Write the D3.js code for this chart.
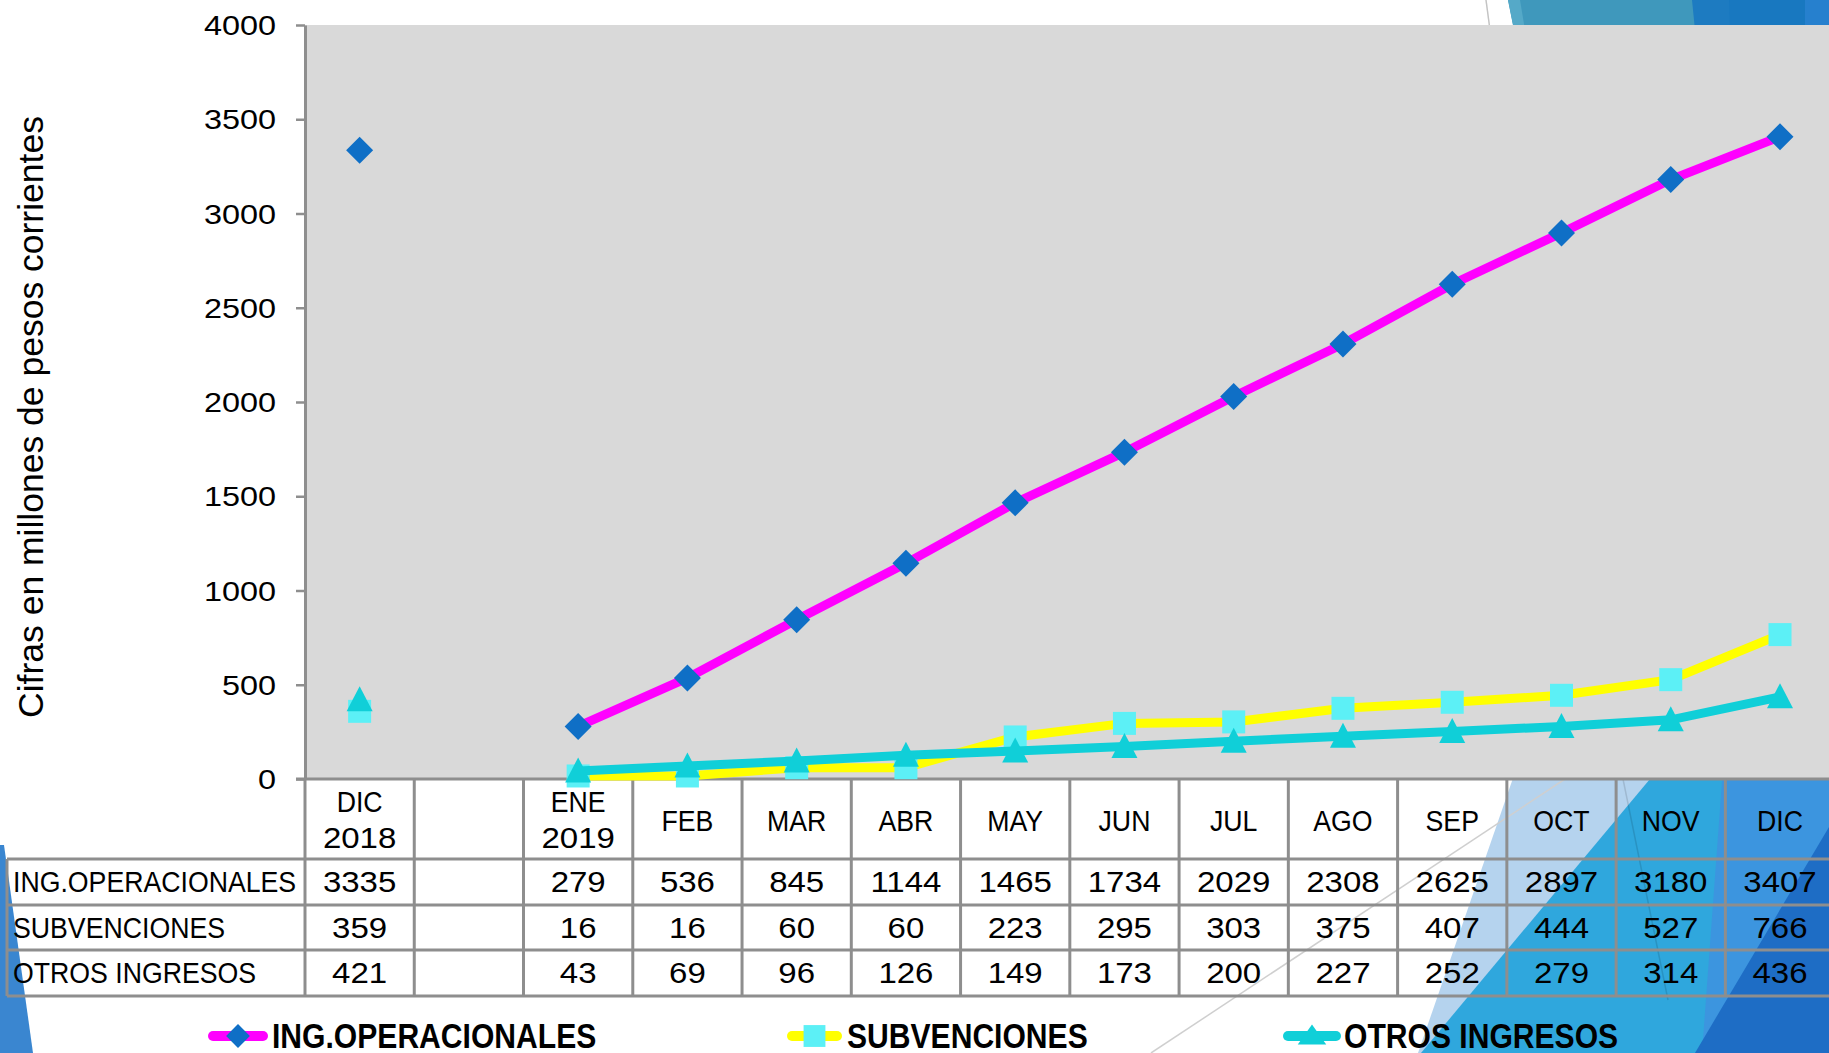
<!DOCTYPE html>
<html lang="es">
<head>
<meta charset="UTF-8">
<title>Ingresos 2019</title>
<script src="https://cdn.jsdelivr.net/npm/d3@7"></script>
<style>
  html, body { margin: 0; padding: 0; background: #fff; overflow: hidden; }
  svg { display: block; font-family: "Liberation Sans", Arial, sans-serif; }
</style>
</head>
<body>
<svg width="1829" height="1053"></svg>
<script>
// data
var months = ["DIC|2018", "", "ENE|2019", "FEB", "MAR", "ABR", "MAY", "JUN", "JUL", "AGO", "SEP", "OCT", "NOV", "DIC"]
var ingOperacionales = [3335, null, 279, 536, 845, 1144, 1465, 1734, 2029, 2308, 2625, 2897, 3180, 3407]
var subvenciones = [359, null, 16, 16, 60, 60, 223, 295, 303, 375, 407, 444, 527, 766]
var otrosIngresos = [421, null, 43, 69, 96, 126, 149, 173, 200, 227, 252, 279, 314, 436]
var yTicks = [0, 500, 1000, 1500, 2000, 2500, 3000, 3500, 4000]

var series = [
  { name: "ING.OPERACIONALES", values: ingOperacionales, line: "#ff00ff", mark: "#0f6fc6", shape: "diamond" },
  { name: "SUBVENCIONES", values: subvenciones, line: "#ffff00", mark: "#5cf0f6", shape: "square" },
  { name: "OTROS INGRESOS", values: otrosIngresos, line: "#10cfd8", mark: "#10cfd8", shape: "triangle" }
]

var plotLeft = 305, plotTop = 25, plotBottom = 779, colW = 109.26
var rowY = [859, 905, 950, 996]
var textY = [892, 938, 983]
var gridColor = "#8e8e8e"

var svg = d3.select("svg")

// background decoration of the slide
var deco = svg.append("g")
deco.append("path").attr("d", "M1508,0 L1829,0 L1829,30 L1514,30 Z").attr("fill", "#3f98bc")
deco.append("path").attr("d", "M1508,0 L1520,0 L1525,30 L1514,30 Z").attr("fill", "#55a9c8")
deco.append("path").attr("d", "M1692,0 L1829,0 L1829,30 L1695,30 Z").attr("fill", "#1d7bc1")
deco.append("path").attr("d", "M1729,0 L1805,0 L1805,30 L1730,30 Z").attr("fill", "#1878c0")
deco.append("path").attr("d", "M1805,0 L1829,0 L1829,30 L1805,30 Z").attr("fill", "#2680ce")
deco.append("line").attr("x1", 1486).attr("y1", 0).attr("x2", 1490).attr("y2", 30)
  .attr("stroke", "#c4c4c4").attr("stroke-width", 1.5)

deco.append("path").attr("d", "M1540,700 L1829,700 L1829,1053 L1418,1053 Z").attr("fill", "#b5d3ee")
deco.append("path").attr("d", "M1716,700 L1829,700 L1829,1053 L1421,1053 Z").attr("fill", "#2fa7dd")
deco.append("path").attr("d", "M1728,700 L1829,700 L1829,1053 L1702,1053 Z").attr("fill", "#3c95df")
deco.append("path").attr("d", "M1829,827 L1829,1053 L1695,1053 Z").attr("fill", "#1e6dc5")
deco.append("line").attr("x1", 1565).attr("y1", 779).attr("x2", 1151).attr("y2", 1053)
  .attr("stroke", "#cfcfcf").attr("stroke-width", 1.5)
deco.append("line").attr("x1", 1623).attr("y1", 779).attr("x2", 1668).attr("y2", 1000)
  .attr("stroke", "rgba(0,0,0,0.12)").attr("stroke-width", 1.5)
deco.append("path").attr("d", "M0,845 L4,845 L33,1053 L0,1053 Z").attr("fill", "#3a86d0")

// scales
var x = d3.scaleBand().domain(d3.range(months.length)).range([plotLeft, plotLeft + colW * months.length])
var y = d3.scaleLinear().domain([0, 4000]).range([plotBottom, plotTop])
var plotRight = plotLeft + colW * months.length

// plot area
svg.append("rect").attr("x", plotLeft).attr("y", plotTop)
  .attr("width", plotRight - plotLeft).attr("height", plotBottom - plotTop).attr("fill", "#d9d9d9")

// y axis
var yAxis = svg.append("g").attr("transform", `translate(${plotLeft},0)`)
  .call(d3.axisLeft(y).tickValues(yTicks).tickSize(9).tickSizeOuter(0).tickFormat(d3.format("d")))
yAxis.select(".domain").attr("stroke", gridColor).attr("stroke-width", 3)
yAxis.selectAll(".tick line").attr("stroke", gridColor).attr("stroke-width", 2.5)
yAxis.selectAll(".tick text")
  .attr("fill", "#000").attr("font-size", 27).attr("font-family", "Liberation Sans, Arial, sans-serif")
  .attr("dy", "0.36em").attr("x", 0)
  .attr("transform", "translate(-29,0) scale(1.2,1)")

svg.append("text")
  .attr("transform", "translate(43,417) rotate(-90)")
  .attr("text-anchor", "middle").attr("font-size", 35.5).attr("fill", "#000")
  .text("Cifras en millones de pesos corrientes")

// data table
var table = svg.append("g")
function cellText(tx, ty, str, anchor) {
  var sx = /^\d+$/.test(str) ? 1.1 : 0.89
  table.append("text")
    .attr("transform", `translate(${tx},${ty}) scale(${sx},1)`)
    .attr("text-anchor", anchor || "middle").attr("font-size", 30).attr("fill", "#000")
    .text(str)
}
months.forEach(function (m, i) {
  var cx = x(i) + x.bandwidth() / 2
  var parts = m.split("|")
  if (parts.length == 2) {
    cellText(cx, 812, parts[0])
    cellText(cx, 848, parts[1])
  } else if (m) {
    cellText(cx, 831, m)
  }
  series.forEach(function (s, r) {
    if (s.values[i] != null) cellText(cx, textY[r], String(s.values[i]))
  })
})
series.forEach(function (s, r) { cellText(13, textY[r], s.name, "start") })

var gl = table.append("g").attr("stroke", gridColor).attr("stroke-width", 3).attr("fill", "none")
gl.append("line").attr("x1", plotLeft - 9).attr("x2", plotRight).attr("y1", plotBottom).attr("y2", plotBottom)
rowY.forEach(function (ry) {
  gl.append("line").attr("x1", 7).attr("x2", plotRight).attr("y1", ry).attr("y2", ry)
})
gl.append("line").attr("x1", 7).attr("x2", 7).attr("y1", rowY[0]).attr("y2", rowY[3])
d3.range(months.length + 1).forEach(function (i) {
  gl.append("line").attr("x1", plotLeft + i * colW).attr("x2", plotLeft + i * colW)
    .attr("y1", plotBottom).attr("y2", rowY[3])
})

// markers
var shapes = {
  diamond: "M0,-13.5L13.5,0L0,13.5L-13.5,0Z",
  square: "M-11.5,-11.5H11.5V11.5H-11.5Z",
  triangle: "M0,-13.5L13,11.5L-13,11.5Z"
}

var line = d3.line()
  .defined(function (d) { return d != null })
  .x(function (d, i) { return x(i) + x.bandwidth() / 2 })
  .y(function (d) { return y(d) })

series.forEach(function (s) {
  var g = svg.append("g")
  g.append("path").datum(s.values).attr("d", line)
    .attr("fill", "none").attr("stroke", s.line).attr("stroke-width", 9)
  g.selectAll("path.mk").data(s.values.map(function (v, i) { return { v: v, i: i } })
    .filter(function (d) { return d.v != null }))
    .join("path").attr("class", "mk")
    .attr("d", shapes[s.shape])
    .attr("transform", function (d) { return `translate(${x(d.i) + x.bandwidth() / 2},${y(d.v)})` })
    .attr("fill", s.mark)
})

// legend
var legendX = [[208, 268, 272], [787, 842, 847], [1283, 1341, 1344]]
series.forEach(function (s, k) {
  var lx = legendX[k]
  var g = svg.append("g")
  g.append("line").attr("x1", lx[0] + 5).attr("x2", lx[1] - 5).attr("y1", 1036).attr("y2", 1036)
    .attr("stroke", s.line).attr("stroke-width", 10).attr("stroke-linecap", "round")
  g.append("path").attr("d", s.shape == "triangle" ? "M0,-12L15,9L-15,9Z" : shapes[s.shape])
    .attr("transform", `translate(${(lx[0] + lx[1]) / 2},1036)` + (s.shape == "diamond" ? " scale(0.88)" : " scale(0.95)"))
    .attr("fill", s.mark)
  g.append("text").attr("transform", `translate(${lx[2]},1048) scale(0.86,1)`)
    .attr("font-size", 35).attr("font-weight", "bold").attr("fill", "#000")
    .text(s.name)
})
</script>
</body>
</html>
